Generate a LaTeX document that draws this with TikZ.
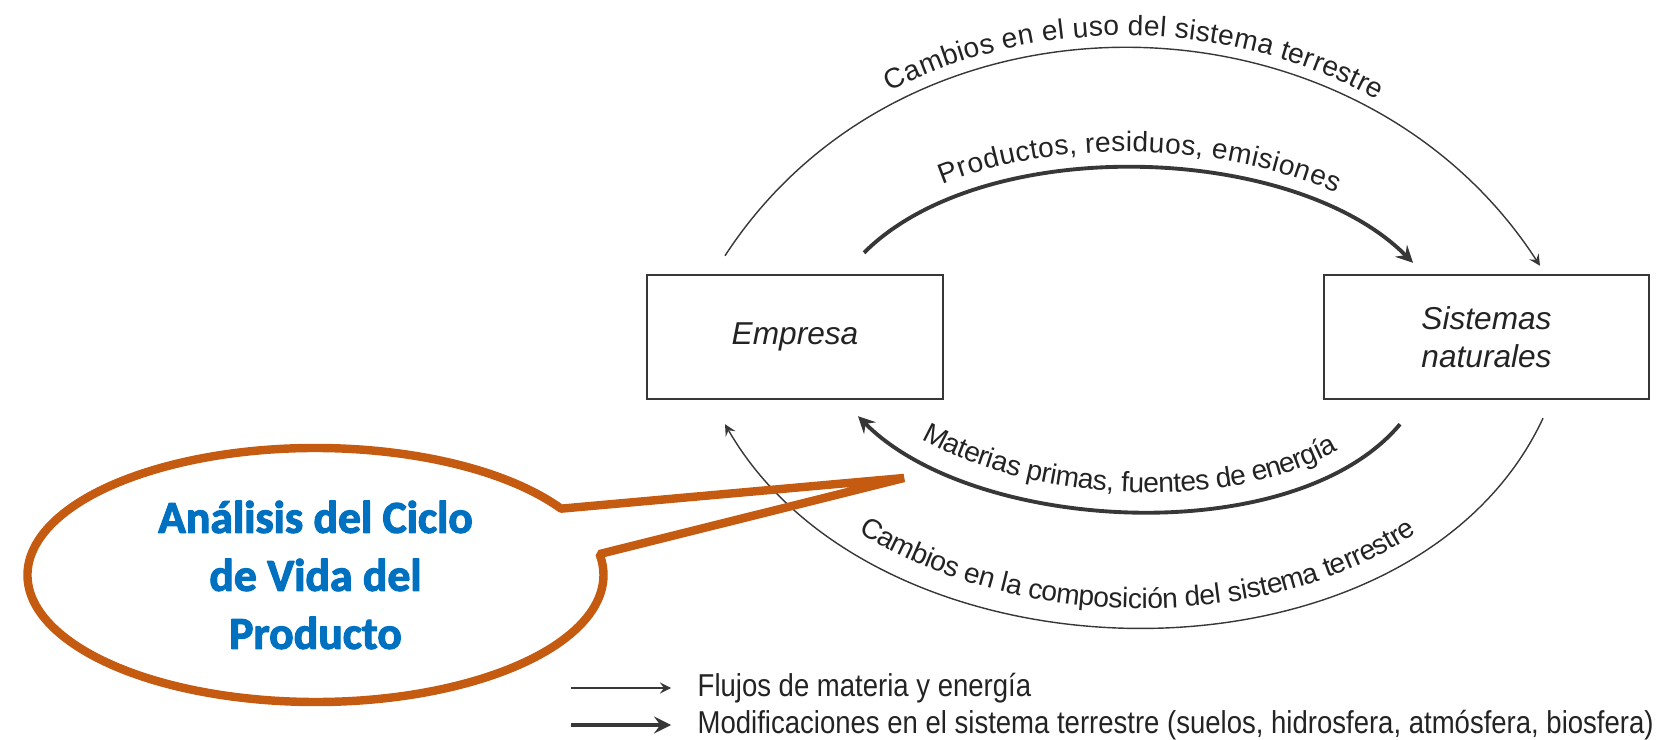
\documentclass[tikz,border=0pt]{standalone}
\usepackage{fontspec}
\setmainfont{Liberation Sans}
\newfontfamily\legendfont[FakeStretch=0.87]{Liberation Sans}
\newfontfamily\calloutfont{Carlito}[BoldFeatures={FakeBold=2.5}]
\usepackage{xcolor}
\usetikzlibrary{arrows, positioning, shapes.callouts, decorations.text}
\definecolor{linegray}{RGB}{55, 55, 55}
\definecolor{textgray}{RGB}{35, 35, 35}
\definecolor{calloutorange}{RGB}{197, 90, 17}
\definecolor{calloutblue}{RGB}{0, 112, 192}
\newcommand{\arcfont}{\fontsize{8}{10}\selectfont}

\begin{document}
\begin{tikzpicture}[
    box/.style={rectangle, draw=linegray, line width=0.7pt, minimum height=1.24cm, align=center, font=\fontsize{9}{10.8}\selectfont\itshape, text=textgray},
    thinarrow/.style={->, thin, draw=linegray, >=stealth},
    thickarrow/.style={->, line width=1.1pt, draw=linegray, >=stealth},
    arclabel/.style 2 args={postaction={decorate, decoration={text along path, text={|\arcfont|#1}, text color=textgray, text align=center, raise=#2}}},
    legend/.style={anchor=west, inner sep=0pt, font=\legendfont\fontsize{9}{10}\selectfont, text=textgray}
]
    \useasboundingbox (0, 0) rectangle (16.57, 7.39);

    % Boxes
    \node[box, minimum width=2.96cm] (emp) at (7.95, 4.02) {Empresa};
    \node[box, minimum width=3.25cm] (sis) at (14.865, 4.02) {Sistemas\\naturales};

    % Upper arcs
    \draw[thinarrow, arclabel={Cambios en el uso del sistema terrestre}{3.5pt}] ([shift={(-0.70,0.18)}]emp.north) to[out=57, in=123, looseness=1.06] ([shift={(0.535,0.08)}]sis.north);
    \draw[thickarrow, arclabel={Productos, residuos, emisiones}{4.5pt}] ([shift={(0.69,0.21)}]emp.north) to[out=45, in=135, looseness=0.79] ([shift={(-0.735,0.11)}]sis.north);

    % Lower arcs
    \draw[thickarrow, <-, arclabel={Materias primas, fuentes de energía}{5.5pt}] ([shift={(0.63,-0.16)}]emp.south) to[out=-45, in=230, looseness=0.78] ([shift={(-0.865,-0.24)}]sis.south);
    \draw[thinarrow, <-, arclabel={Cambios en la composición del sistema terrestre}{5.5pt}] ([shift={(-0.70,-0.24)}]emp.south) to[out=-60, in=245, looseness=0.97] ([shift={(0.565,-0.18)}]sis.south);

    % Callout
    \coordinate (ptip) at (9.04, 2.61);
    \node[ellipse callout, draw=calloutorange, line width=2.4pt, line join=bevel, minimum width=5.76cm, minimum height=2.54cm, inner sep=0pt, callout absolute pointer={(ptip)}, callout pointer arc=22, align=center, font=\calloutfont\bfseries\fontsize{13}{16.5}\selectfont, text=calloutblue] (callout) at (3.155, 1.64) {Análisis del Ciclo\\de Vida del\\Producto};

    % Legend
    \node[legend] (legflow) at (6.97, 0.51) {Flujos de materia y energía};
    \node[legend] (legmod) at (6.97, 0.14) {Modificaciones en el sistema terrestre (suelos, hidrosfera, atmósfera, biosfera)};
    \coordinate (flowstart) at (5.71, 0.51);
    \coordinate (modstart) at (5.71, 0.14);
    \draw[thinarrow] (flowstart) -- ([xshift=-0.26cm]legflow.west);
    \draw[thickarrow] (modstart) -- ([xshift=-0.26cm]legmod.west);
\end{tikzpicture}
\end{document}
